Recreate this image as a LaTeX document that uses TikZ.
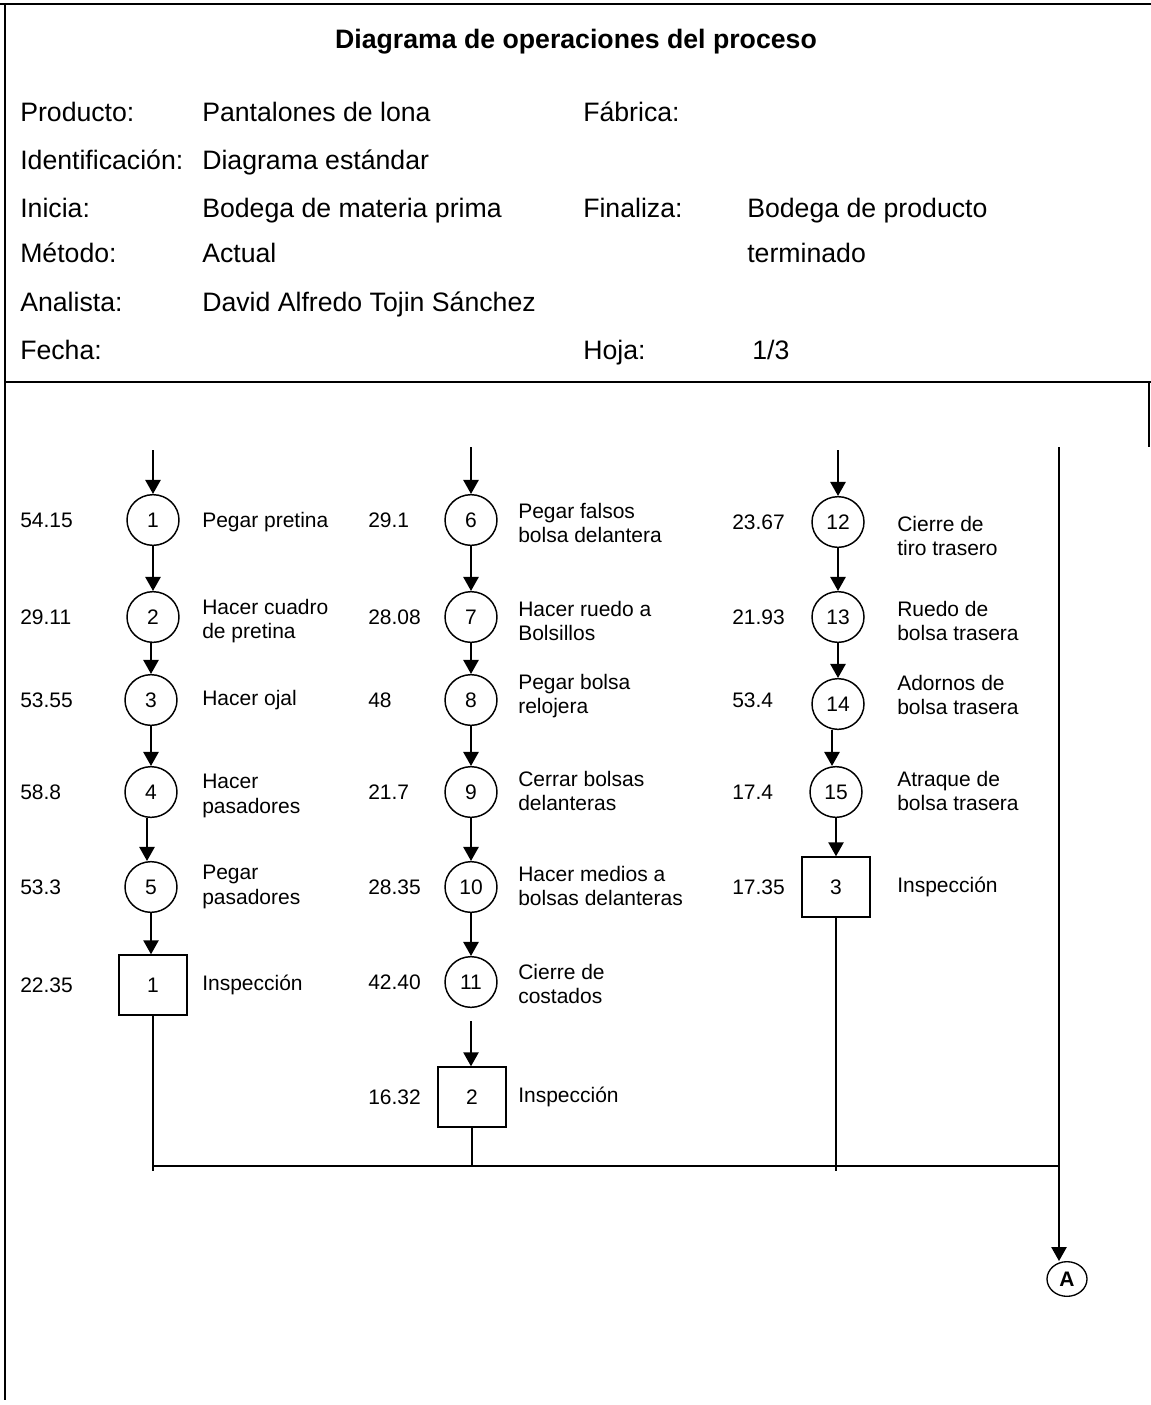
\documentclass[tikz,border=0pt]{standalone}
\usepackage{fontspec}
\setmainfont{Liberation Sans}
\usetikzlibrary{positioning, arrows.meta, shapes.geometric}
\newcommand{\flowfont}{\fontsize{15.75}{18.5}\selectfont}
\newcommand{\hdrfont}{\fontsize{20}{24}\selectfont}
\tikzset{
  opnode/.style   = {draw, ellipse, line width=1.1pt, minimum width=39pt, minimum height=38pt, inner sep=0pt, font=\flowfont},
  inspnode/.style = {draw, rectangle, line width=1.1pt, minimum width=51pt, minimum height=45pt, inner sep=0pt, font=\flowfont},
  conn/.style     = {draw, ellipse, line width=1pt, minimum width=30pt, minimum height=26pt, inner sep=0pt, font=\flowfont\bfseries},
  numtxt/.style   = {anchor=west, inner sep=0pt, text height=11.3pt, text depth=0pt, font=\flowfont},
  desctxt/.style  = {anchor=west, inner sep=0pt, align=left, font=\flowfont},
  hdrtxt/.style   = {anchor=west, inner sep=0pt, text height=14.3pt, text depth=0pt, font=\hdrfont},
  fwd/.style      = {-{Triangle[length=10.5pt, width=11.5pt]}, line width=1.2pt},
  link/.style     = {line width=1.2pt},
  frame/.style    = {line width=2pt}
}

\begin{document}
\begin{tikzpicture}[x=0.75pt, y=-0.75pt]

    \useasboundingbox (0,0) rectangle (1151,1405);

    % ── Frame ─────────────────────────────────────────────────────────────
    \draw[frame] (0,4) -- (1151,4);
    \draw[frame] (5,4) -- (5,1400);
    \draw[frame] (4,382) -- (1151,382);
    \draw[frame] (1149,382) -- (1149,447);

    % ── Header ────────────────────────────────────────────────────────────
    \node[font=\hdrfont\bfseries, inner sep=0pt] (title) at (576,42)
      {Diagrama de operaciones del proceso};

    \node[hdrtxt] (hProd)  at (20,112)  {Producto:};
    \node[hdrtxt] (vProd)  at (202,112) {Pantalones de lona};
    \node[hdrtxt] (hFab)   at (583,112) {Fábrica:};

    \node[hdrtxt] (hIdent) at (20,160)  {Identificación:};
    \node[hdrtxt] (vIdent) at (202,160) {Diagrama estándar};

    \node[hdrtxt] (hIni)   at (20,208)  {Inicia:};
    \node[hdrtxt] (vIni)   at (202,208) {Bodega de materia prima};
    \node[hdrtxt] (hFin)   at (583,208) {Finaliza:};
    \node[hdrtxt] (vFin)   at (747,208) {Bodega de producto};

    \node[hdrtxt] (hMet)   at (20,253)  {Método:};
    \node[hdrtxt] (vMet)   at (202,253) {Actual};
    \node[hdrtxt] (vFin2)  at (747,253) {terminado};

    \node[hdrtxt] (hAna)   at (20,302)  {Analista:};
    \node[hdrtxt] (vAna)   at (202,302) {David Alfredo Tojin Sánchez};

    \node[hdrtxt] (hFecha) at (20,350)  {Fecha:};
    \node[hdrtxt] (hHoja)  at (583,350) {Hoja:};
    \node[hdrtxt] (vHoja)  at (752,350) {1/3};

    % ════════════════════════════════════════════════════════════════════
    %  COLUMN 1
    % ════════════════════════════════════════════════════════════════════
    \coordinate (in1) at (153,450);

    \node[opnode]   (op1)   at (153,520) {1};
    \node[opnode]   (op2)   at (153,617) {2};
    \node[opnode]   (op3)   at (151,700) {3};
    \node[opnode]   (op4)   at (151,792) {4};
    \node[opnode]   (op5)   at (151,887) {5};
    \node[inspnode] (insp1) at (153,985) {1};

    \node[numtxt] (t1)  at (20,520) {54.15};
    \node[numtxt] (t2)  at (20,617) {29.11};
    \node[numtxt] (t3)  at (20,700) {53.55};
    \node[numtxt] (t4)  at (20,792) {58.8};
    \node[numtxt] (t5)  at (20,887) {53.3};
    \node[numtxt] (ti1) at (20,985) {22.35};

    \node[desctxt] (d1)  at (202,522) {Pegar pretina};
    \node[desctxt] (d2)  at (202,621) {Hacer cuadro\\de pretina};
    \node[desctxt] (d3)  at (202,700) {Hacer ojal};
    \node[desctxt] (d4)  at (202,796) {Hacer\\pasadores};
    \node[desctxt] (d5)  at (202,887) {Pegar\\pasadores};
    \node[desctxt] (di1) at (202,985) {Inspección};

    \draw[fwd] (in1) -- (op1);
    \draw[fwd] (op1) -- (op2);
    \draw[fwd] (op2.south -| op3) -- (op3);
    \draw[fwd] (op3) -- (op4);
    \draw[fwd] (op4.south -| 147,0) -- (147,0 |- op5.north);
    \draw[fwd] (op5) -- (op5 |- insp1.north);

    % ════════════════════════════════════════════════════════════════════
    %  COLUMN 2
    % ════════════════════════════════════════════════════════════════════
    \coordinate (in2) at (471,447);

    \node[opnode]   (op6)   at (471,520)  {6};
    \node[opnode]   (op7)   at (471,617)  {7};
    \node[opnode]   (op8)   at (471,700)  {8};
    \node[opnode]   (op9)   at (471,792)  {9};
    \node[opnode]   (op10)  at (471,887)  {10};
    \node[opnode]   (op11)  at (471,982)  {11};
    \node[inspnode] (insp2) at (472,1097) {2};

    \node[numtxt] (t6)  at (368,520)  {29.1};
    \node[numtxt] (t7)  at (368,617)  {28.08};
    \node[numtxt] (t8)  at (368,700)  {48};
    \node[numtxt] (t9)  at (368,792)  {21.7};
    \node[numtxt] (t10) at (368,887)  {28.35};
    \node[numtxt] (t11) at (368,982)  {42.40};
    \node[numtxt] (ti2) at (368,1097) {16.32};

    \node[desctxt] (d6)  at (518,523)  {Pegar falsos\\bolsa delantera};
    \node[desctxt] (d7)  at (518,621)  {Hacer ruedo a\\Bolsillos};
    \node[desctxt] (d8)  at (518,696)  {Pegar bolsa\\relojera};
    \node[desctxt] (d9)  at (518,791)  {Cerrar bolsas\\delanteras};
    \node[desctxt] (d10) at (518,886)  {Hacer medios a\\bolsas delanteras};
    \node[desctxt] (d11) at (518,984)  {Cierre de\\costados};
    \node[desctxt] (di2) at (518,1097) {Inspección};

    \draw[fwd] (in2) -- (op6);
    \draw[fwd] (op6) -- (op7);
    \draw[fwd] (op7) -- (op8);
    \draw[fwd] (op8) -- (op9);
    \draw[fwd] (op9) -- (op10);
    \draw[fwd] (op10) -- (op11);
    \draw[fwd, shorten <=10pt] (op11) -- (op11 |- insp2.north);

    % ════════════════════════════════════════════════════════════════════
    %  COLUMN 3
    % ════════════════════════════════════════════════════════════════════
    \coordinate (in3) at (838,450);

    \node[opnode]   (op12)  at (838,522) {12};
    \node[opnode]   (op13)  at (838,617) {13};
    \node[opnode]   (op14)  at (838,704) {14};
    \node[opnode]   (op15)  at (836,792) {15};
    \node[inspnode] (insp3) at (836,887) {3};

    \node[numtxt] (t12) at (732,522) {23.67};
    \node[numtxt] (t13) at (732,617) {21.93};
    \node[numtxt] (t14) at (732,700) {53.4};
    \node[numtxt] (t15) at (732,792) {17.4};
    \node[numtxt] (ti3) at (732,887) {17.35};

    \node[desctxt] (d12) at (897,536) {Cierre de\\tiro trasero};
    \node[desctxt] (d13) at (897,621) {Ruedo de\\bolsa trasera};
    \node[desctxt] (d14) at (897,695) {Adornos de\\bolsa trasera};
    \node[desctxt] (d15) at (897,791) {Atraque de\\bolsa trasera};
    \node[desctxt] (di3) at (897,887) {Inspección};

    \draw[fwd] (in3) -- (op12);
    \draw[fwd] (op12) -- (op13);
    \draw[fwd] (op13) -- (op14);
    \draw[fwd] (op14.south -| 832,0) -- (832,0 |- op15.north);
    \draw[fwd] (op15) -- (op15 |- insp3.north);

    % ── Collector line and off-page connector ────────────────────────────
    \coordinate (busL) at (153,1166);
    \coordinate (busR) at (1059,1166);
    \coordinate (topR) at (1059,447);

    \node[conn] (A) at (1067,1279) {A};

    \draw[link] (insp1.south) -- ([yshift=-4pt]insp1.south |- busL);
    \draw[link] (insp2.south) -- (insp2.south |- busL);
    \draw[link] (insp3.south) -- ([yshift=-4pt]insp3.south |- busL);
    \draw[link] (busL) -- (busR);
    \draw[fwd]  (topR) -- (topR |- A.north);

\end{tikzpicture}
\end{document}
